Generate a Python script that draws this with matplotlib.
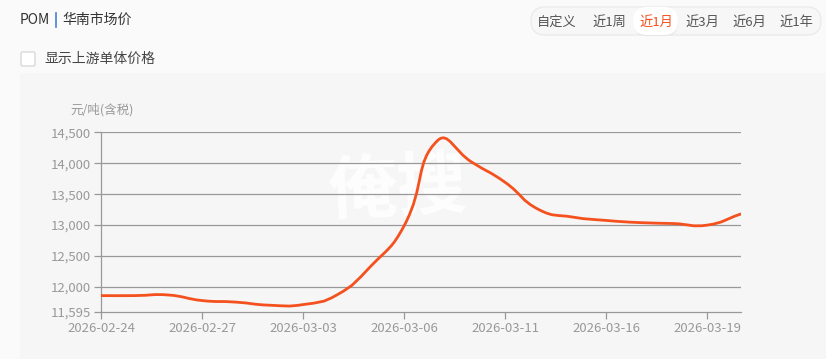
import matplotlib.pyplot as plt
from matplotlib.path import Path
from matplotlib.patches import PathPatch, FancyBboxPatch, Rectangle
import numpy as np

plt.rcParams['font.family'] = ['Noto Sans CJK SC', 'DejaVu Sans']

# data (trading days, 02-28 was a make-up workday)
dates = ["2026-02-24", "2026-02-25", "2026-02-26", "2026-02-27", "2026-02-28",
         "2026-03-02", "2026-03-03", "2026-03-04", "2026-03-05", "2026-03-06",
         "2026-03-09", "2026-03-10", "2026-03-11", "2026-03-12", "2026-03-13",
         "2026-03-16", "2026-03-17", "2026-03-18", "2026-03-19", "2026-03-20"]
prices = [11860, 11860, 11870, 11780, 11755,
          11705, 11715, 11870, 12330, 12990,
          14370, 14020, 13690, 13250, 13130,
          13075, 13040, 13025, 13000, 13180]
y_ticks = [11595, 12000, 12500, 13000, 13500, 14000, 14500]
tick_every = 3
ranges = ["自定义", "近1周", "近1月", "近3月", "近6月", "近1年"]
range_x = [557, 609, 656, 702, 749, 796]
active_range = "近1月"

W, H = 826, 359
LINE = '#f4511e'
GREY = '#999999'

fig = plt.figure(figsize=(W / 100, H / 100), dpi=100, facecolor='#fafafa')

# background / decoration layer in pixel coords
bg = fig.add_axes([0, 0, 1, 1], zorder=0)
bg.set_xlim(0, W)
bg.set_ylim(H, 0)
bg.axis('off')
bg.add_patch(Rectangle((20, 73), W - 20, H - 73, color='#f6f6f6', lw=0))

# title
bg.text(20, 20, "POM", fontsize=10, color='#333333', va='center', ha='left')
bg.plot([56, 56], [13, 27], color='#4a7fd0', lw=1.2)
bg.text(62, 20, "华南市场价", fontsize=10, color='#333333', va='center', ha='left')

# range buttons
bg.add_patch(FancyBboxPatch((531, 7), 290, 28, boxstyle="round,pad=0,rounding_size=14",
                            fc='#f7f7f7', ec='#ebebeb', lw=1))
for lab, cx in zip(ranges, range_x):
    if lab == active_range:
        bg.add_patch(FancyBboxPatch((634, 9), 44, 27, boxstyle="round,pad=0,rounding_size=13",
                                    fc='#e6e6e6', ec='none', lw=0))
        bg.add_patch(FancyBboxPatch((633, 7), 45, 28, boxstyle="round,pad=0,rounding_size=14",
                                    fc='white', ec='none', lw=0))
        bg.text(cx, 22, lab, fontsize=9.5, color=LINE, ha='center', va='center')
    else:
        bg.text(cx, 22, lab, fontsize=9.5, color='#555555', ha='center', va='center')

# checkbox
bg.add_patch(FancyBboxPatch((21, 52), 14, 14, boxstyle="round,pad=0,rounding_size=1.5",
                            fc='white', ec='#d9d9d9', lw=1))
bg.text(44, 59, "显示上游单体价格", fontsize=10, color='#444444', ha='left', va='center',
        fontweight='medium')

# unit label
bg.text(70, 110, "元/吨(含税)", fontsize=9, color=GREY, ha='left', va='center')

# main chart
ax = fig.add_axes([101 / W, 1 - 312 / H, 640 / W, (312 - 132.3) / H], zorder=1)
ax.set_facecolor('none')
x = np.arange(len(prices))
ax.set_xlim(0, len(prices) - 1)
ax.set_ylim(y_ticks[0], y_ticks[-1])

# watermark
ax.text(0.464, 0.68, "俺搜", transform=ax.transAxes, fontsize=50, fontweight='bold',
        color='white', alpha=0.85, ha='center', va='center', rotation=3, zorder=0)

for yt in y_ticks[1:]:
    ax.axhline(yt, color=GREY, lw=0.9, zorder=1)

# smooth line (bezier control points like echarts smooth=0.5, computed in display space)
pts = ax.transData.transform(np.column_stack([x, prices]))
smooth = 0.5
cps = []
for i in range(len(pts)):
    prev = pts[i - 1] if i > 0 else pts[i]
    nxt = pts[i + 1] if i < len(pts) - 1 else pts[i]
    v = nxt - prev
    d0 = np.hypot(*(pts[i] - prev))
    d1 = np.hypot(*(pts[i] - nxt))
    r = d0 / (d0 + d1) if d0 + d1 > 0 else 0.5
    cps.append((pts[i] - v * smooth * r, pts[i] + v * smooth * (1 - r)))
verts = [pts[0]]
codes = [Path.MOVETO]
for i in range(len(pts) - 1):
    verts += [cps[i][1], cps[i + 1][0], pts[i + 1]]
    codes += [Path.CURVE4] * 3
inv = ax.transData.inverted()
verts = inv.transform(np.array(verts))
ax.add_patch(PathPatch(Path(verts, codes), fc='none', ec=LINE, lw=2, zorder=3,
                       capstyle='round', joinstyle='round'))

ax.set_yticks(y_ticks)
ax.set_yticklabels([f"{v:,}" for v in y_ticks])
ax.set_xticks(x[::tick_every])
ax.set_xticklabels(dates[::tick_every])
ax.tick_params(colors=GREY, labelcolor=GREY, labelsize=9.5, length=5, width=0.9, pad=2)
for s in ['top', 'right']:
    ax.spines[s].set_visible(False)
for s in ['left', 'bottom']:
    ax.spines[s].set_color(GREY)
    ax.spines[s].set_linewidth(0.9)

fig.savefig("out.png", dpi=100, facecolor=fig.get_facecolor())
